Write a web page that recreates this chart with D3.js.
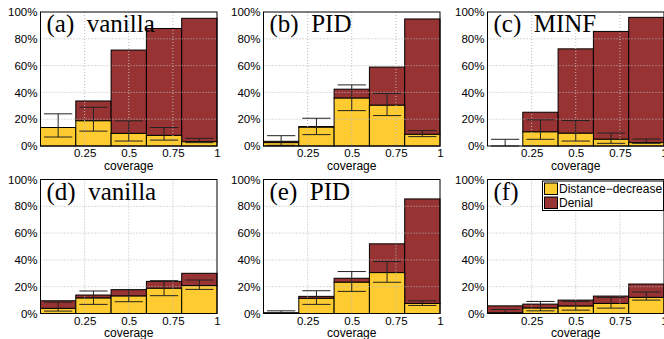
<!DOCTYPE html>
<html>
<head>
<meta charset="utf-8">
<script src="https://cdn.jsdelivr.net/npm/d3@7"></script>
<style>
  body { margin: 0; background: #fff; }
</style>
</head>
<body>
<div id="chart"></div>
<script>
// panel titles, row by row
const titles = ['(a)  vanilla', '(b)  PID', '(c)  MINF', '(d)  vanilla', '(e)  PID', '(f)'];
const binEdges = [0, 0.2, 0.4, 0.6, 0.8, 1];
const xTicks = [0.25, 0.5, 0.75, 1];
const yTicks = [0, 20, 40, 60, 80, 100];
const seriesNames = ['Distance\u2212decrease', 'Denial'];

// percent per coverage bin, one row per panel
const distanceDecrease = [
  [13.8, 18.8, 9.4, 7.9, 3.2],
  [2.5, 14, 35.7, 30.4, 8.7],
  [0, 10.5, 9.5, 5, 2.5],
  [3.8, 11.5, 13, 18.8, 20.8],
  [0.3, 11.3, 23.3, 30.5, 7.5],
  [0.5, 4, 5.5, 7.5, 12]
];
const denial = [
  [0, 14.8, 62.2, 79.8, 92.1],
  [1, 0.5, 6.7, 28.5, 86.1],
  [0, 14.7, 63, 80.5, 93.5],
  [5.7, 2.3, 4.8, 5.2, 9.2],
  [0.2, 1.5, 3, 21.5, 78],
  [5.2, 3, 4.5, 5.5, 10]
];
// error bars of the distance-decrease share
const errLow = [
  [6.7, 11.1, 3.7, 4.4, 2.5],
  [0.5, 8.5, 26.4, 22.7, 7],
  [0, 5, 3.7, 2, 2],
  [1.8, 6.8, 8.8, 13.3, 18],
  [0, 6.8, 16.5, 23.3, 6],
  [0, 2, 2.5, 4, 10]
];
const errHigh = [
  [24, 28.9, 18.8, 13.8, 5.7],
  [7.7, 20.7, 45.6, 39.2, 11.5],
  [5, 19.5, 19, 9.7, 5.2],
  [8.5, 16.8, 17.8, 24.5, 25],
  [2, 17, 31.3, 38.8, 9.5],
  [3, 9, 9, 12, 16]
];

const yellow = '#fecb31';
const red = '#973333';

const width = 664, height = 339;
const panelW = 176.5, panelH = 134;
const colLeft = [40.5, 263.5, 487.5];
const rowTop = [12, 179.5];

const svg = d3.select('#chart').append('svg')
    .attr('width', width)
    .attr('height', height)
    .style('font-family', '"Liberation Sans", Arial, sans-serif');

const x = d3.scaleLinear().domain([0, 1]).range([0, panelW]);
const y = d3.scaleLinear().domain([0, 100]).range([panelH, 0]);

titles.forEach((title, p) => {
  const g = svg.append('g')
      .attr('transform', `translate(${colLeft[p % 3]}, ${rowTop[Math.floor(p / 3)]})`);

  const bins = d3.range(5).map(i => ({
    x0: binEdges[i],
    x1: binEdges[i + 1],
    dist: distanceDecrease[p][i],
    den: denial[p][i],
    lo: errLow[p][i],
    hi: errHigh[p][i]
  }));

  // white background
  g.append('rect')
    .attr('width', panelW)
    .attr('height', panelH)
    .attr('fill', '#fff');

  // stacked bars
  g.selectAll('rect.den')
    .data(bins)
    .join('rect')
      .attr('class', 'den')
      .attr('x', d => x(d.x0))
      .attr('y', d => y(d.dist + d.den))
      .attr('width', d => x(d.x1) - x(d.x0))
      .attr('height', d => y(d.dist) - y(d.dist + d.den))
      .attr('fill', red)
      .attr('stroke', '#000')
      .attr('stroke-width', 1);

  g.selectAll('rect.dist')
    .data(bins)
    .join('rect')
      .attr('class', 'dist')
      .attr('x', d => x(d.x0))
      .attr('y', d => y(d.dist))
      .attr('width', d => x(d.x1) - x(d.x0))
      .attr('height', d => y(0) - y(d.dist))
      .attr('fill', yellow)
      .attr('stroke', '#000')
      .attr('stroke-width', 1);

  // dotted grid on top of bars
  g.append('g')
    .selectAll('line')
    .data(xTicks.slice(0, 3))
    .join('line')
      .attr('x1', d => x(d)).attr('x2', d => x(d))
      .attr('y1', 0).attr('y2', panelH)
      .attr('stroke', '#bbb')
      .attr('stroke-dasharray', '1,2');
  g.append('g')
    .selectAll('line')
    .data(yTicks.slice(1, 5))
    .join('line')
      .attr('x1', 0).attr('x2', panelW)
      .attr('y1', d => y(d)).attr('y2', d => y(d))
      .attr('stroke', '#bbb')
      .attr('stroke-dasharray', '1,2');

  // error bars
  const cap = 0.08;
  const eb = g.append('g')
      .attr('stroke', '#222')
      .attr('stroke-width', 1);
  eb.selectAll('line.v')
    .data(bins)
    .join('line')
      .attr('class', 'v')
      .attr('x1', d => x((d.x0 + d.x1) / 2)).attr('x2', d => x((d.x0 + d.x1) / 2))
      .attr('y1', d => y(d.lo)).attr('y2', d => y(d.hi));
  eb.selectAll('line.lo')
    .data(bins)
    .join('line')
      .attr('class', 'lo')
      .attr('x1', d => x((d.x0 + d.x1) / 2 - cap)).attr('x2', d => x((d.x0 + d.x1) / 2 + cap))
      .attr('y1', d => y(d.lo)).attr('y2', d => y(d.lo));
  eb.selectAll('line.hi')
    .data(bins)
    .join('line')
      .attr('class', 'hi')
      .attr('x1', d => x((d.x0 + d.x1) / 2 - cap)).attr('x2', d => x((d.x0 + d.x1) / 2 + cap))
      .attr('y1', d => y(d.hi)).attr('y2', d => y(d.hi));

  // frame
  g.append('rect')
    .attr('width', panelW)
    .attr('height', panelH)
    .attr('fill', 'none')
    .attr('stroke', '#000')
    .attr('stroke-width', 1);

  // axes
  g.append('g')
    .attr('transform', `translate(0, ${panelH})`)
    .call(d3.axisBottom(x).tickValues(xTicks).tickSize(0).tickPadding(3).tickFormat(d3.format('')))
    .call(g => g.select('.domain').remove())
    .attr('font-size', '11.5px')
    .attr('font-family', null);

  g.append('g')
    .call(d3.axisLeft(y).tickValues(yTicks).tickSize(0).tickPadding(3).tickFormat(d => d + '%'))
    .call(g => g.select('.domain').remove())
    .attr('font-size', '11.5px')
    .attr('font-family', null);

  g.append('text')
    .attr('x', panelW / 2)
    .attr('y', panelH + 23.5)
    .attr('text-anchor', 'middle')
    .attr('font-size', '12px')
    .text('coverage');

  // panel title
  g.append('text')
    .attr('x', 6)
    .attr('y', 20)
    .attr('font-family', '"Liberation Serif", "Times New Roman", serif')
    .attr('font-size', '25px')
    .style('white-space', 'pre')
    .text(title);
});

// legend inside panel (f)
const legend = svg.append('g')
    .attr('transform', `translate(${colLeft[2] + 55}, ${rowTop[1] + 1.5})`);
legend.append('rect')
  .attr('width', 121)
  .attr('height', 29.5)
  .attr('fill', '#fff')
  .attr('stroke', '#000');
legend.selectAll('g')
  .data(seriesNames)
  .join('g')
    .attr('transform', (d, i) => `translate(2, ${2 + i * 14})`)
    .call(g => g.append('rect')
      .attr('width', 13)
      .attr('height', 11.5)
      .attr('fill', (d, i) => i === 0 ? yellow : red)
      .attr('stroke', '#000'))
    .call(g => g.append('text')
      .attr('x', 14.5)
      .attr('y', 10)
      .attr('font-size', '12px')
      .text(d => d));
</script>
</body>
</html>
